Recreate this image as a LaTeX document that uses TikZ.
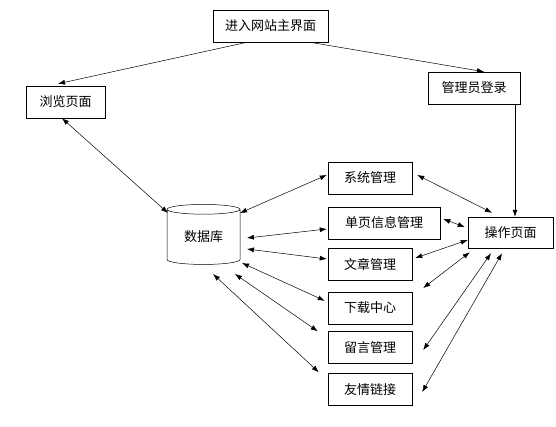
\documentclass[tikz,border=0pt]{standalone}
\usepackage{fontspec}
\newfontfamily\cjk{Noto Sans CJK SC}
\usetikzlibrary{arrows.meta,calc,shapes.geometric}
\begin{document}
\begin{tikzpicture}[x=1pt,y=-1pt,line width=.5pt,>={Latex[length=7pt,width=5pt]},
 font=\cjk\fontsize{13}{15}\selectfont,
 box/.style={draw,rectangle,inner sep=0pt,minimum height=32pt},
 midbox/.style={box,minimum width=84pt}]
\useasboundingbox (0,0) rectangle (556,426);
% boxes
\node[box,minimum width=115pt] (main) at (270.5,26) {进入网站主界面};
\node[box,minimum width=79pt] (browse) at (65.5,102) {浏览页面};
\node[box,minimum width=92pt] (admin) at (474,88) {管理员登录};
\node[draw,cylinder,shape border rotate=90,aspect=0.25,inner sep=0pt,
  minimum width=73pt,minimum height=60pt] (db) at (203.5,237) {数据库};
\node[midbox] (sys) at (370,178) {系统管理};
\node[box,minimum width=112pt] (page) at (384,223) {单页信息管理};
\node[midbox] (art) at (370,264.5) {文章管理};
\node[midbox] (down) at (370,308) {下载中心};
\node[midbox] (msg) at (370,347.5) {留言管理};
\node[midbox] (link) at (370,389.5) {友情链接};
\node[box,minimum width=85pt,minimum height=31pt] (op) at (510.5,232.5) {操作页面};
% entry
\draw[->] ($(main.south)+(-23.5,0)$) -- ($(browse.north)+(-7.5,-2)$);
\draw[->] ($(main.south)+(39.5,0)$) -- ($(admin.north)+(10,0)$);
\coordinate (login) at ($(admin.south)+(41,0)$);
\draw[->] (login) -- (login |- op.north);
\draw[<->] ($(browse.south)+(-3.5,0)$) -- ($(db.center)+(-35.5,-24)$);
% database side
\draw[<->] ($(db.center)+(36.5,-24)$) -- ($(sys.west)+(-1,-3)$);
\draw[<->] ($(db.center)+(43.5,1)$) -- ($(page.west)+(-1,6)$);
\draw[<->] ($(db.center)+(43.5,12)$) -- ($(art.west)+(-1,-5.5)$);
\draw[<->] ($(db.center)+(38.5,26)$) -- ($(down.north west)+(-3,9)$);
\draw[<->] ($(db.center)+(31.5,37)$) -- ($(msg.north west)+(-10,0)$);
\draw[<->] ($(db.center)+(9.5,37)$) -- ($(link.north west)+(-9,-1)$);
% operation side
\draw[<->] ($(sys.east)+(5,-3)$) -- ($(op.north)+(-18.5,-4)$);
\draw[<->] ($(page.east)+(3,-4)$) -- ($(op.west)+(-3,-5.5)$);
\draw[<->] ($(art.east)+(3,-6.5)$) -- ($(op.west)+(0,7.5)$);
\draw[<->] ($(down.east)+(11,-20)$) -- ($(op.south west)+(2,4)$);
\draw[<->] ($(msg.east)+(11,2.5)$) -- ($(op.south)+(-19.5,5)$);
\draw[<->] ($(link.east)+(10,2.5)$) -- ($(op.south)+(-8.5,5)$);
\end{tikzpicture}
\end{document}
